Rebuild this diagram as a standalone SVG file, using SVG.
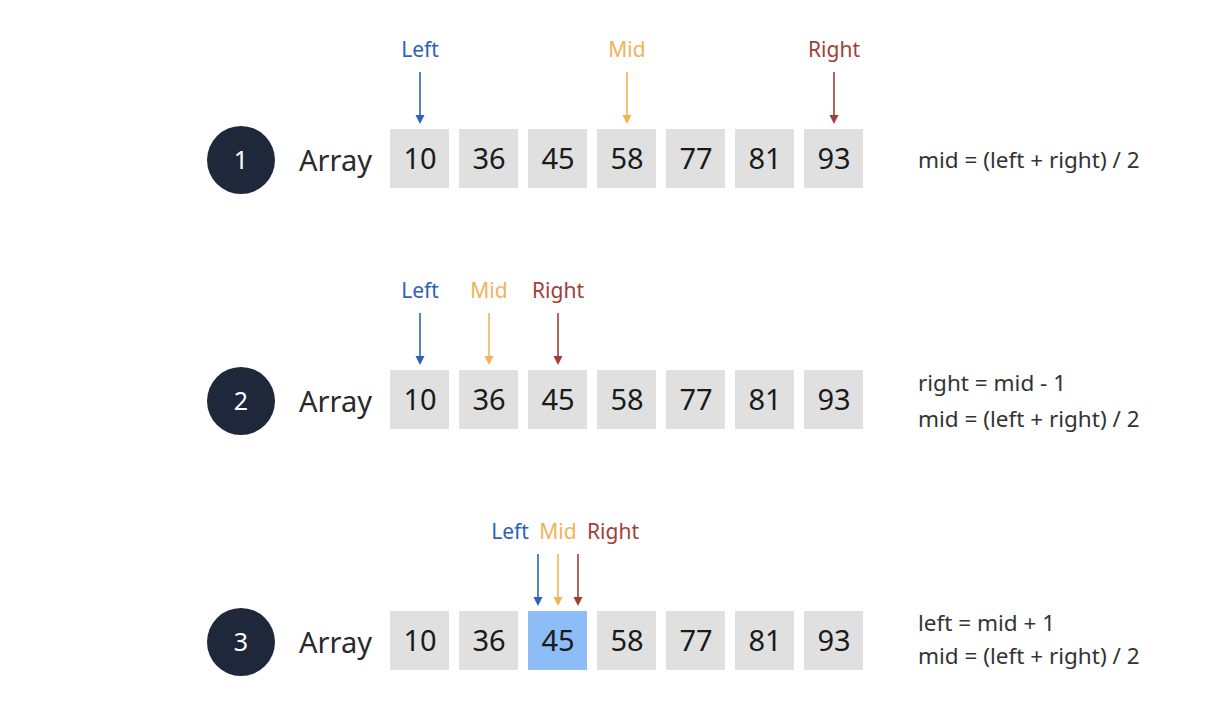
<svg xmlns="http://www.w3.org/2000/svg" width="1226" height="726" viewBox="0 0 1226 726">
<defs>
<style>
.bg{fill:#ffffff}
.circ{fill:#1e283a}
.cnum{font-family:"Noto Sans",sans-serif;font-size:25px;fill:#ffffff;text-anchor:middle}
.arr{font-family:"Noto Sans",sans-serif;font-size:29px;fill:#2a2a2a}
.box{fill:#e0e0e0}
.hl{fill:#8dbcf6}
.num{font-family:"Noto Sans",sans-serif;font-size:29px;fill:#1a1a1a;text-anchor:middle}
.lbl{font-family:"Noto Sans",sans-serif;font-size:21px;text-anchor:middle}
.f{font-family:"Noto Sans",sans-serif;font-size:22.5px;fill:#333333}
.bl{fill:#2c62b8}
.or{fill:#f0b357}
.rd{fill:#a23e38}
.lb{stroke:#2c62b8;stroke-width:1.6}
.lo{stroke:#f0b357;stroke-width:1.6}
.lr{stroke:#a23e38;stroke-width:1.6}
</style>
</defs>
<rect class="bg" x="0" y="0" width="1226" height="726"/>

<g id="row1">
<circle class="circ" cx="241" cy="160" r="34"/>
<text class="cnum" x="241" y="169">1</text>
<text class="arr" x="299" y="171">Array</text>
<rect class="box" x="390" y="129" width="59" height="59"/><text class="num" x="420" y="169">10</text>
<rect class="box" x="459" y="129" width="59" height="59"/><text class="num" x="489" y="169">36</text>
<rect class="box" x="528" y="129" width="59" height="59"/><text class="num" x="558" y="169">45</text>
<rect class="box" x="597" y="129" width="59" height="59"/><text class="num" x="627" y="169">58</text>
<rect class="box" x="666" y="129" width="59" height="59"/><text class="num" x="696" y="169">77</text>
<rect class="box" x="735" y="129" width="59" height="59"/><text class="num" x="765" y="169">81</text>
<rect class="box" x="804" y="129" width="59" height="59"/><text class="num" x="834" y="169">93</text>
<text class="lbl bl" x="420" y="57">Left</text>
<text class="lbl or" x="627" y="57">Mid</text>
<text class="lbl rd" x="834" y="57">Right</text>
<text class="f" x="918" y="168">mid = (left + right) / 2</text>
</g>

<g id="row2">
<circle class="circ" cx="241" cy="401" r="34"/>
<text class="cnum" x="241" y="410">2</text>
<text class="arr" x="299" y="412">Array</text>
<rect class="box" x="390" y="370" width="59" height="59"/><text class="num" x="420" y="410">10</text>
<rect class="box" x="459" y="370" width="59" height="59"/><text class="num" x="489" y="410">36</text>
<rect class="box" x="528" y="370" width="59" height="59"/><text class="num" x="558" y="410">45</text>
<rect class="box" x="597" y="370" width="59" height="59"/><text class="num" x="627" y="410">58</text>
<rect class="box" x="666" y="370" width="59" height="59"/><text class="num" x="696" y="410">77</text>
<rect class="box" x="735" y="370" width="59" height="59"/><text class="num" x="765" y="410">81</text>
<rect class="box" x="804" y="370" width="59" height="59"/><text class="num" x="834" y="410">93</text>
<text class="lbl bl" x="420" y="298">Left</text>
<text class="lbl or" x="489" y="298">Mid</text>
<text class="lbl rd" x="558" y="298">Right</text>
<text class="f" x="918" y="391">right = mid - 1</text>
<text class="f" x="918" y="427">mid = (left + right) / 2</text>
</g>

<g id="row3">
<circle class="circ" cx="241" cy="642" r="34"/>
<text class="cnum" x="241" y="651">3</text>
<text class="arr" x="299" y="653">Array</text>
<rect class="box" x="390" y="611" width="59" height="59"/><text class="num" x="420" y="651">10</text>
<rect class="box" x="459" y="611" width="59" height="59"/><text class="num" x="489" y="651">36</text>
<rect class="hl" x="528" y="611" width="59" height="59"/><text class="num" x="558" y="651">45</text>
<rect class="box" x="597" y="611" width="59" height="59"/><text class="num" x="627" y="651">58</text>
<rect class="box" x="666" y="611" width="59" height="59"/><text class="num" x="696" y="651">77</text>
<rect class="box" x="735" y="611" width="59" height="59"/><text class="num" x="765" y="651">81</text>
<rect class="box" x="804" y="611" width="59" height="59"/><text class="num" x="834" y="651">93</text>
<text class="lbl bl" x="510" y="539">Left</text>
<text class="lbl or" x="558" y="539">Mid</text>
<text class="lbl rd" x="613" y="539">Right</text>
<text class="f" x="918" y="631">left = mid + 1</text>
<text class="f" x="918" y="664">mid = (left + right) / 2</text>
</g>

<g id="connectors">
<line class="lb" x1="420" y1="72" x2="420" y2="117"/><path class="bl" d="M415.5,115 L424.5,115 L420,124 Z"/>
<line class="lo" x1="627" y1="72" x2="627" y2="117"/><path class="or" d="M622.5,115 L631.5,115 L627,124 Z"/>
<line class="lr" x1="834" y1="72" x2="834" y2="117"/><path class="rd" d="M829.5,115 L838.5,115 L834,124 Z"/>

<line class="lb" x1="420" y1="313" x2="420" y2="358"/><path class="bl" d="M415.5,356 L424.5,356 L420,365 Z"/>
<line class="lo" x1="489" y1="313" x2="489" y2="358"/><path class="or" d="M484.5,356 L493.5,356 L489,365 Z"/>
<line class="lr" x1="558" y1="313" x2="558" y2="358"/><path class="rd" d="M553.5,356 L562.5,356 L558,365 Z"/>

<line class="lb" x1="538" y1="554" x2="538" y2="599"/><path class="bl" d="M533.5,597 L542.5,597 L538,606 Z"/>
<line class="lo" x1="558" y1="554" x2="558" y2="599"/><path class="or" d="M553.5,597 L562.5,597 L558,606 Z"/>
<line class="lr" x1="578" y1="554" x2="578" y2="599"/><path class="rd" d="M573.5,597 L582.5,597 L578,606 Z"/>
</g>
</svg>
